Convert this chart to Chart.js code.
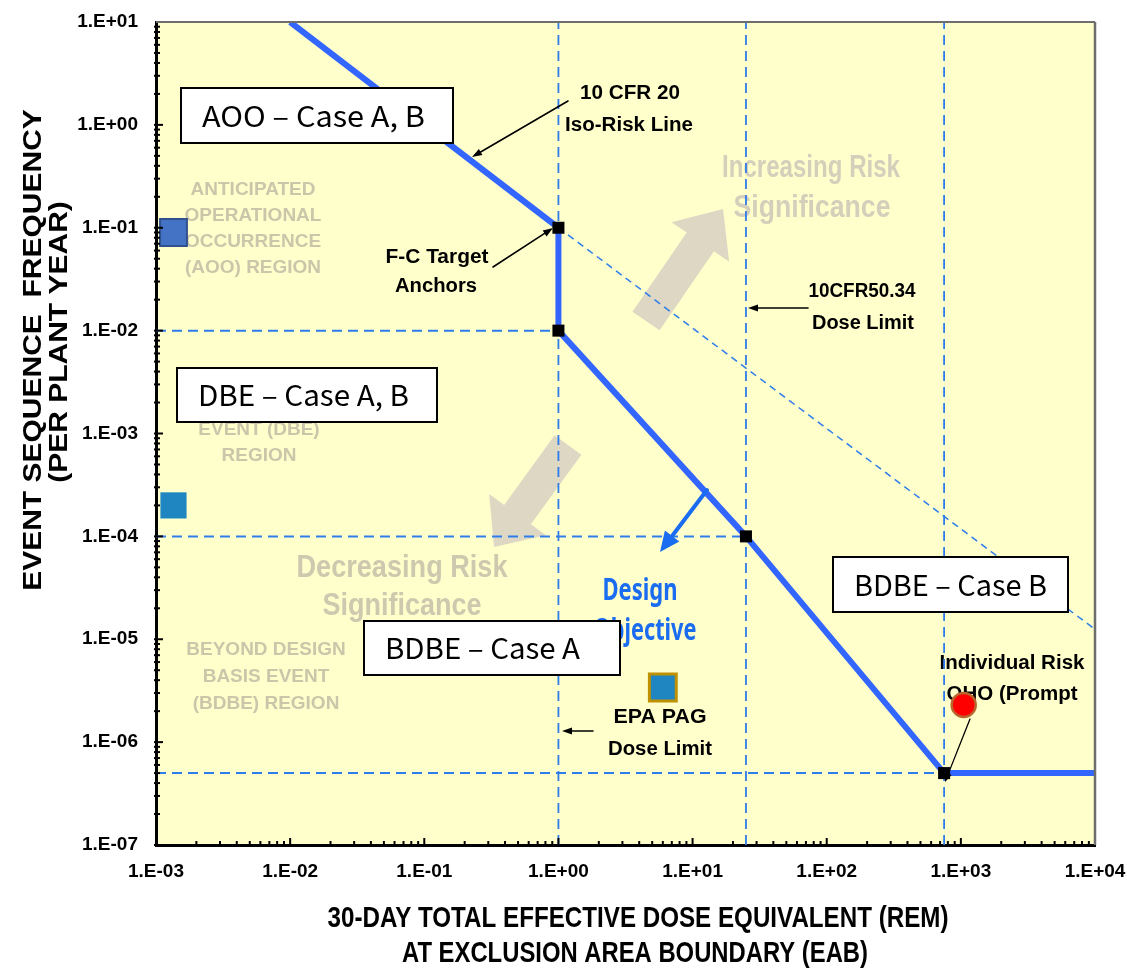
<!DOCTYPE html>
<html><head><meta charset="utf-8">
<script src="https://cdn.jsdelivr.net/npm/chart.js@4/dist/chart.umd.min.js"></script>
<style>html,body{margin:0;padding:0;background:#fff;}canvas{display:block;}</style>
</head><body>
<canvas id="c" width="1127" height="969"></canvas>
<script>
// ---------------- data ----------------
const xTickValues = [1e-3, 1e-2, 1e-1, 1e0, 1e1, 1e2, 1e3, 1e4];
const xTickLabels = ['1.E-03','1.E-02','1.E-01','1.E+00','1.E+01','1.E+02','1.E+03','1.E+04'];
const yTickValues = [1e-7, 1e-6, 1e-5, 1e-4, 1e-3, 1e-2, 1e-1, 1e0, 1e1];
const yTickLabels = ['1.E-07','1.E-06','1.E-05','1.E-04','1.E-03','1.E-02','1.E-01','1.E+00','1.E+01'];

// 10 CFR 20 iso-risk line + F-C target curve (dose rem, frequency /plant-yr)
const fcDose = [0.01, 1, 1, 25, 750, 10000];
const fcFreq = [10, 0.1, 0.01, 1e-4, 5e-7, 5e-7];
// continuation of the iso-risk line (thin dashed)
const isoExtDose = [1, 10000];
const isoExtFreq = [0.1, 1.25e-5];
// F-C target anchors
const anchorDose = [1, 1, 25, 750];
const anchorFreq = [0.1, 0.01, 1e-4, 5e-7];
// dose limits (vertical dashed): EPA PAG, 10CFR50.34, QHO prompt
const doseLimits = [1, 25, 750];
// frequency boundaries (horizontal dashed) and where each ends
const freqBounds = [0.01, 1e-4, 5e-7];
const freqBoundEnds = [1, 25, 750];
// event cases plotted
const caseNames = ['AOO - Case A, B', 'DBE - Case A, B', 'BDBE - Case A', 'Individual Risk QHO'];
const caseDose = [1.35e-3, 1.35e-3, 6, 1050];
const caseFreq = [0.09, 2e-4, 3.4e-6, 2.3e-6];

// ---------------- helpers ----------------
function hasFont(name){
  const c = document.createElement('canvas').getContext('2d');
  const s = '1.E+01 WwMmIiQq';
  c.font = '40px monospace'; const a = c.measureText(s).width;
  c.font = '40px "' + name + '", monospace'; const b = c.measureText(s).width;
  return Math.abs(a - b) > 0.5;
}
const narrow = hasFont('Liberation Sans Narrow');
const tickFont = narrow ? {family: '"Liberation Sans Narrow"', size: 21, weight: 'bold'}
                        : {family: '"Liberation Sans", Arial', size: 19, weight: 'bold'};

const SANS = '"Liberation Sans", Arial, sans-serif';
function txt(ctx, s, x, y, o){
  o = o || {};
  const size = o.size || 20, weight = o.weight || 'bold', family = o.family || SANS;
  ctx.save();
  ctx.font = weight + ' ' + size + 'px ' + family;
  ctx.fillStyle = o.color || '#000';
  ctx.textBaseline = 'alphabetic';
  ctx.textAlign = 'left';
  const w = ctx.measureText(s).width;
  const sx = o.width ? o.width / w : (o.sx || 1);
  const sy = o.sy || 1;
  const ww = w * sx;
  const align = o.align || 'center';
  const x0 = align === 'center' ? x - ww / 2 : (align === 'right' ? x - ww : x);
  ctx.translate(x0, y); ctx.scale(sx, sy);
  ctx.fillText(s, 0, 0);
  ctx.restore();
}
function thinArrow(ctx, x0, y0, x1, y1, color, lw, hl, hw){
  color = color || '#000'; lw = lw || 1.6; hl = hl || 10; hw = hw || 7;
  const a = Math.atan2(y1 - y0, x1 - x0);
  const bx = x1 - hl * Math.cos(a), by = y1 - hl * Math.sin(a);
  ctx.save();
  ctx.strokeStyle = color; ctx.fillStyle = color; ctx.lineWidth = lw; ctx.lineCap = 'round';
  ctx.beginPath(); ctx.moveTo(x0, y0); ctx.lineTo(bx, by); ctx.stroke();
  ctx.beginPath(); ctx.moveTo(x1, y1);
  ctx.lineTo(bx + hw / 2 * Math.sin(a), by - hw / 2 * Math.cos(a));
  ctx.lineTo(bx - hw / 2 * Math.sin(a), by + hw / 2 * Math.cos(a));
  ctx.closePath(); ctx.fill();
  ctx.restore();
}
function fatArrow(ctx, tx, ty, px, py, sw, hw, hl, color){
  const dx = px - tx, dy = py - ty, L = Math.hypot(dx, dy);
  const ux = dx / L, uy = dy / L, nx = -uy, ny = ux;
  const bx = px - ux * hl, by = py - uy * hl;
  ctx.save(); ctx.fillStyle = color;
  ctx.beginPath();
  ctx.moveTo(tx + nx * sw / 2, ty + ny * sw / 2);
  ctx.lineTo(bx + nx * sw / 2, by + ny * sw / 2);
  ctx.lineTo(bx + nx * hw / 2, by + ny * hw / 2);
  ctx.lineTo(px, py);
  ctx.lineTo(bx - nx * hw / 2, by - ny * hw / 2);
  ctx.lineTo(bx - nx * sw / 2, by - ny * sw / 2);
  ctx.lineTo(tx - nx * sw / 2, ty - ny * sw / 2);
  ctx.closePath(); ctx.fill(); ctx.restore();
}
function box(ctx, x0, y0, x1, y1, s, tx, ty, w){
  ctx.save();
  ctx.fillStyle = '#fff'; ctx.fillRect(x0, y0, x1 - x0, y1 - y0);
  ctx.strokeStyle = '#000'; ctx.lineWidth = 2; ctx.strokeRect(x0, y0, x1 - x0, y1 - y0);
  ctx.restore();
  txt(ctx, s, tx, ty, {size: 29, weight: 'normal', family: '"Noto Sans CJK KR", "Noto Sans", sans-serif', align: 'left', width: w});
}

// ---------------- datasets ----------------
const BLUE = '#3366FF';
const DASH = '#2E7DEB';
const datasets = [];
datasets.push({
  label: 'F-C target / iso-risk', showLine: true, order: 5,
  data: fcDose.map((d, i) => ({x: d, y: fcFreq[i]})),
  borderColor: BLUE, borderWidth: 6, pointRadius: 0, borderJoinStyle: 'round', fill: false
});
datasets.push({
  label: 'iso-risk extension', showLine: true, order: 8,
  data: isoExtDose.map((d, i) => ({x: d, y: isoExtFreq[i]})),
  borderColor: DASH, borderWidth: 1.5, borderDash: [7, 5], pointRadius: 0, fill: false
});
doseLimits.forEach((d, i) => datasets.push({
  label: 'dose limit ' + i, showLine: true, order: 9,
  data: [{x: d, y: yTickValues[0]}, {x: d, y: yTickValues[yTickValues.length - 1]}],
  borderColor: DASH, borderWidth: 1.8, borderDash: [10, 6], pointRadius: 0, fill: false
}));
freqBounds.forEach((f, i) => datasets.push({
  label: 'freq bound ' + i, showLine: true, order: 9,
  data: [{x: xTickValues[0], y: f}, {x: freqBoundEnds[i], y: f}],
  borderColor: DASH, borderWidth: 2, borderDash: [10, 6], pointRadius: 0, fill: false
}));
datasets.push({
  label: 'anchors', order: 2,
  data: anchorDose.map((d, i) => ({x: d, y: anchorFreq[i]})),
  pointStyle: 'rect', pointRadius: 8.5, backgroundColor: '#000', borderColor: '#000', borderWidth: 0
});
datasets.push({
  label: 'cases', order: 1,
  data: caseDose.map((d, i) => ({x: d, y: caseFreq[i]})),
  pointStyle: ['rect', 'rect', 'rect', 'circle'],
  pointRadius: [19, 18.5, 19, 12],
  backgroundColor: ['#4472C4', '#1F86C1', '#1F86C1', '#FF0000'],
  borderColor: ['#2F528F', '#1F86C1', '#BF9000', '#B8652E'],
  borderWidth: [2, 0, 3, 2.5]
});

// ---------------- plugins ----------------
const decor = {
  id: 'decor',
  beforeDraw(chart){
    const {ctx, chartArea: a} = chart;
    ctx.save();
    ctx.fillStyle = '#fff'; ctx.fillRect(0, 0, chart.width, chart.height);
    ctx.fillStyle = '#FFFFCC'; ctx.fillRect(a.left, a.top, a.right - a.left, a.bottom - a.top);
    ctx.restore();
  },
  beforeDatasetsDraw(chart){
    const ctx = chart.ctx;
    const G = '#CBC6AA';
    // region labels
    [['ANTICIPATED', 195], ['OPERATIONAL', 221], ['OCCURRENCE', 247], ['(AOO) REGION', 273]]
      .forEach(([s, y]) => txt(ctx, s, 253, y, {size: 19, color: G}));
    [['DESIGN BASIS', 409], ['EVENT (DBE)', 435], ['REGION', 461]]
      .forEach(([s, y]) => txt(ctx, s, 259, y, {size: 19, color: G}));
    [['BEYOND DESIGN', 655], ['BASIS EVENT', 682], ['(BDBE) REGION', 709]]
      .forEach(([s, y]) => txt(ctx, s, 266, y, {size: 19, color: G}));
    // risk significance arrows + text
    fatArrow(ctx, 646, 321, 723, 209, 33, 70, 40, '#DDD7C4');
    fatArrow(ctx, 568, 445, 494, 547, 33, 70, 40, '#DDD7C4');
    txt(ctx, 'Increasing Risk', 811, 177, {size: 31, color: '#D3CFBB', width: 178});
    txt(ctx, 'Significance', 812, 217, {size: 31, color: '#D3CFBB', width: 157});
    txt(ctx, 'Decreasing Risk', 402, 577, {size: 32, color: '#CDC8AE', width: 211});
    txt(ctx, 'Significance', 402, 615, {size: 32, color: '#CDC8AE', width: 159});
    // texts that sit under marks
    txt(ctx, 'Individual Risk', 1012, 669, {size: 20, width: 145});
    txt(ctx, 'QHO (Prompt', 1012, 700, {size: 20, width: 131});
    txt(ctx, 'Design', 640, 600, {size: 30, color: '#1A6CF0', family: '"Noto Sans", sans-serif', width: 75});
    txt(ctx, 'Objective', 645, 640, {size: 30, color: '#1A6CF0', family: '"Noto Sans", sans-serif', width: 103});
  },
  afterDatasetsDraw(chart){
    const {ctx, chartArea: a, scales} = chart;
    // top and right frame
    ctx.save();
    ctx.strokeStyle = '#6E6E6E'; ctx.lineWidth = 2;
    ctx.beginPath(); ctx.moveTo(a.left, a.top); ctx.lineTo(a.right, a.top); ctx.stroke();
    ctx.lineWidth = 2.5;
    ctx.beginPath(); ctx.moveTo(a.right, a.top); ctx.lineTo(a.right, a.bottom); ctx.stroke();
    // inward minor ticks
    ctx.strokeStyle = '#000'; ctx.lineWidth = 2;
    for (let e = -3; e < 4; e++) for (let m = 1; m <= 9; m++){
      const px = scales.x.getPixelForValue(m * Math.pow(10, e));
      const len = m === 1 ? 7 : 4;
      ctx.beginPath(); ctx.moveTo(px, a.bottom); ctx.lineTo(px, a.bottom - len); ctx.stroke();
    }
    for (let e = -7; e < 1; e++) for (let m = 1; m <= 9; m++){
      const py = scales.y.getPixelForValue(m * Math.pow(10, e));
      const len = m === 1 ? 7 : 4;
      ctx.beginPath(); ctx.moveTo(a.left - 2, py); ctx.lineTo(a.left + len, py); ctx.stroke();
    }
    ctx.restore();
    // annotations
    txt(ctx, '10 CFR 20', 630, 99, {size: 20, width: 100});
    txt(ctx, 'Iso-Risk Line', 629, 131, {size: 20, width: 128});
    thinArrow(ctx, 568, 101, 472, 157);
    txt(ctx, 'F-C Target', 437, 263, {size: 20, width: 103});
    txt(ctx, 'Anchors', 436, 292, {size: 20, width: 82});
    thinArrow(ctx, 493, 267, 553, 228);
    txt(ctx, '10CFR50.34', 862, 297, {size: 20, width: 107});
    txt(ctx, 'Dose Limit', 863, 329, {size: 20, width: 102});
    thinArrow(ctx, 808, 308, 748, 308);
    txt(ctx, 'EPA PAG', 660, 723, {size: 20, width: 93});
    txt(ctx, 'Dose Limit', 660, 755, {size: 20, width: 104});
    thinArrow(ctx, 593, 731, 562, 731);
    thinArrow(ctx, 970, 719, 945, 782, '#000', 1.3, 9, 7);
    thinArrow(ctx, 707, 490, 660, 552, '#1A6CF0', 4, 20, 18);
    // case boxes
    box(ctx, 181, 88, 453, 143, 'AOO – Case A, B', 202, 127, 223);
    box(ctx, 177, 368, 437, 422, 'DBE – Case A, B', 198, 406, 211);
    box(ctx, 364, 621, 620, 675, 'BDBE – Case A', 385, 659, 195);
    box(ctx, 833, 557, 1068, 612, 'BDBE – Case B', 854, 596, 193);
    // axis titles
    txt(ctx, '30-DAY TOTAL EFFECTIVE DOSE EQUIVALENT (REM)', 638, 927, {size: 30, width: 621});
    txt(ctx, 'AT EXCLUSION AREA BOUNDARY (EAB)', 635, 962, {size: 30, width: 466});
    ctx.save(); ctx.translate(41, 350); ctx.rotate(-Math.PI / 2);
    txt(ctx, 'EVENT SEQUENCE  FREQUENCY', 0, 0, {size: 30, sy: 0.88});
    ctx.restore();
    ctx.save(); ctx.translate(67, 342); ctx.rotate(-Math.PI / 2);
    txt(ctx, '(PER PLANT YEAR)', 0, 0, {size: 30, sy: 0.88});
    ctx.restore();
  }
};

new Chart(document.getElementById('c'), {
  type: 'scatter',
  data: {datasets},
  options: {
    responsive: false, animation: false, events: [],
    layout: {padding: {top: 16, right: 32, left: 0, bottom: 0}},
    plugins: {legend: {display: false}, tooltip: {enabled: false}, title: {display: false}},
    scales: {
      x: {
        type: 'logarithmic', min: xTickValues[0], max: xTickValues[xTickValues.length - 1],
        afterBuildTicks: s => { s.ticks = xTickValues.map(v => ({value: v})); },
        afterFit: s => { s.height = 124; s.paddingLeft = 0; s.paddingRight = 0; s.paddingTop = 0; s.paddingBottom = 0; },
        ticks: {autoSkip: false, maxRotation: 0, padding: 15, color: '#000', font: tickFont,
          callback: v => xTickLabels[xTickValues.findIndex(t => Math.abs(Math.log10(t) - Math.log10(v)) < 1e-6)]},
        grid: {display: false, drawTicks: false},
        border: {display: true, color: '#000', width: 3}
      },
      y: {
        type: 'logarithmic', min: yTickValues[0], max: yTickValues[yTickValues.length - 1],
        afterBuildTicks: s => { s.ticks = yTickValues.map(v => ({value: v})); },
        afterFit: s => { s.width = 156; s.paddingLeft = 0; s.paddingRight = 0; s.paddingTop = 0; s.paddingBottom = 0; },
        ticks: {autoSkip: false, padding: 18, color: '#000', font: tickFont,
          callback: v => yTickLabels[yTickValues.findIndex(t => Math.abs(Math.log10(t) - Math.log10(v)) < 1e-6)]},
        grid: {display: false, drawTicks: false},
        border: {display: true, color: '#000', width: 3}
      }
    }
  },
  plugins: [decor]
});
</script>
</body></html>
